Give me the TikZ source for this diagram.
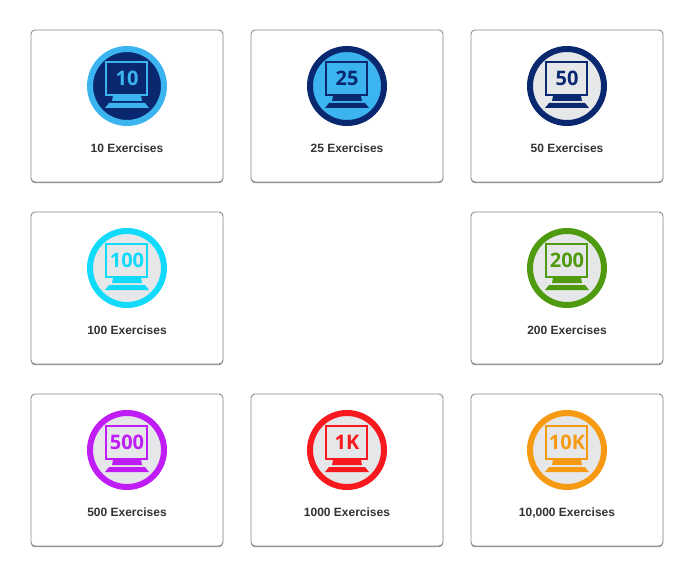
\documentclass[tikz,border=0pt]{standalone}
\usepackage{fontspec}
\setmainfont{Liberation Sans}
\newfontfamily\badgefont{Open Sans}
\usetikzlibrary{positioning, shadows}
\definecolor{navy}{HTML}{0A2870}
\definecolor{sky}{HTML}{3CB4F0}
\definecolor{paleface}{HTML}{E6E7E9}
\definecolor{aqua}{HTML}{12DAFB}
\definecolor{leaf}{HTML}{4F9A0E}
\definecolor{violet}{HTML}{C01CF5}
\definecolor{scarlet}{HTML}{F8191F}
\definecolor{amber}{HTML}{F79A13}
% #1 name, #2 position, #3 ring and monitor, #4 face, #5 number, #6 caption
\newcommand{\exercisecard}[6]{
  \node [card] (card#1) at (#2) {};
  \node [badge, draw=#3, fill=#4] (badge#1) at ([yshift=20pt]card#1.center) {};
  \begin{scope}[shift={(badge#1.center)}]
    \draw [#3, line width=2.4pt] (-21,-24) rectangle (20,9);
    \fill [#3] (-14,10) -- (14,10) -- (15,15) -- (-15,15) -- cycle;
    \fill [#3] (-18,17) -- (18,17) -- (22,22) -- (-22,22) -- cycle;
    \node [number, text=#3] (number#1) at (0,-8) {#5};
  \end{scope}
  \node [caption, below=18pt of badge#1] (caption#1) {#6};
}
\begin{document}
\begin{tikzpicture}[
    x=1pt, y=-1pt,
    card/.style={rectangle, draw=black!45, fill=white, rounded corners=4pt,
      minimum width=192pt, minimum height=152pt, line width=0.9pt,
      drop shadow={shadow xshift=0pt, shadow yshift=-1.2pt, fill=black!45, opacity=1}},
    badge/.style={circle, line width=6pt, minimum size=74pt, inner sep=0pt},
    number/.style={font=\badgefont\bfseries\fontsize{20}{20}\selectfont, inner sep=0pt},
    caption/.style={font=\bfseries\fontsize{12}{14}\selectfont, text=black!80, inner sep=0pt}
  ]
  \useasboundingbox (0,0) rectangle (694,578);
  % Top row
  \exercisecard{10}{127,106}{sky}{navy}{10}{10 Exercises}
  \exercisecard{25}{347,106}{navy}{sky}{25}{25 Exercises}
  \exercisecard{50}{567,106}{navy}{paleface}{50}{50 Exercises}
  % Middle row
  \exercisecard{100}{127,288}{aqua}{paleface}{100}{100 Exercises}
  \exercisecard{200}{567,288}{leaf}{paleface}{200}{200 Exercises}
  % Bottom row
  \exercisecard{500}{127,470}{violet}{paleface}{500}{500 Exercises}
  \exercisecard{1000}{347,470}{scarlet}{paleface}{1K}{1000 Exercises}
  \exercisecard{10000}{567,470}{amber}{paleface}{10K}{10,000 Exercises}
\end{tikzpicture}
\end{document}
